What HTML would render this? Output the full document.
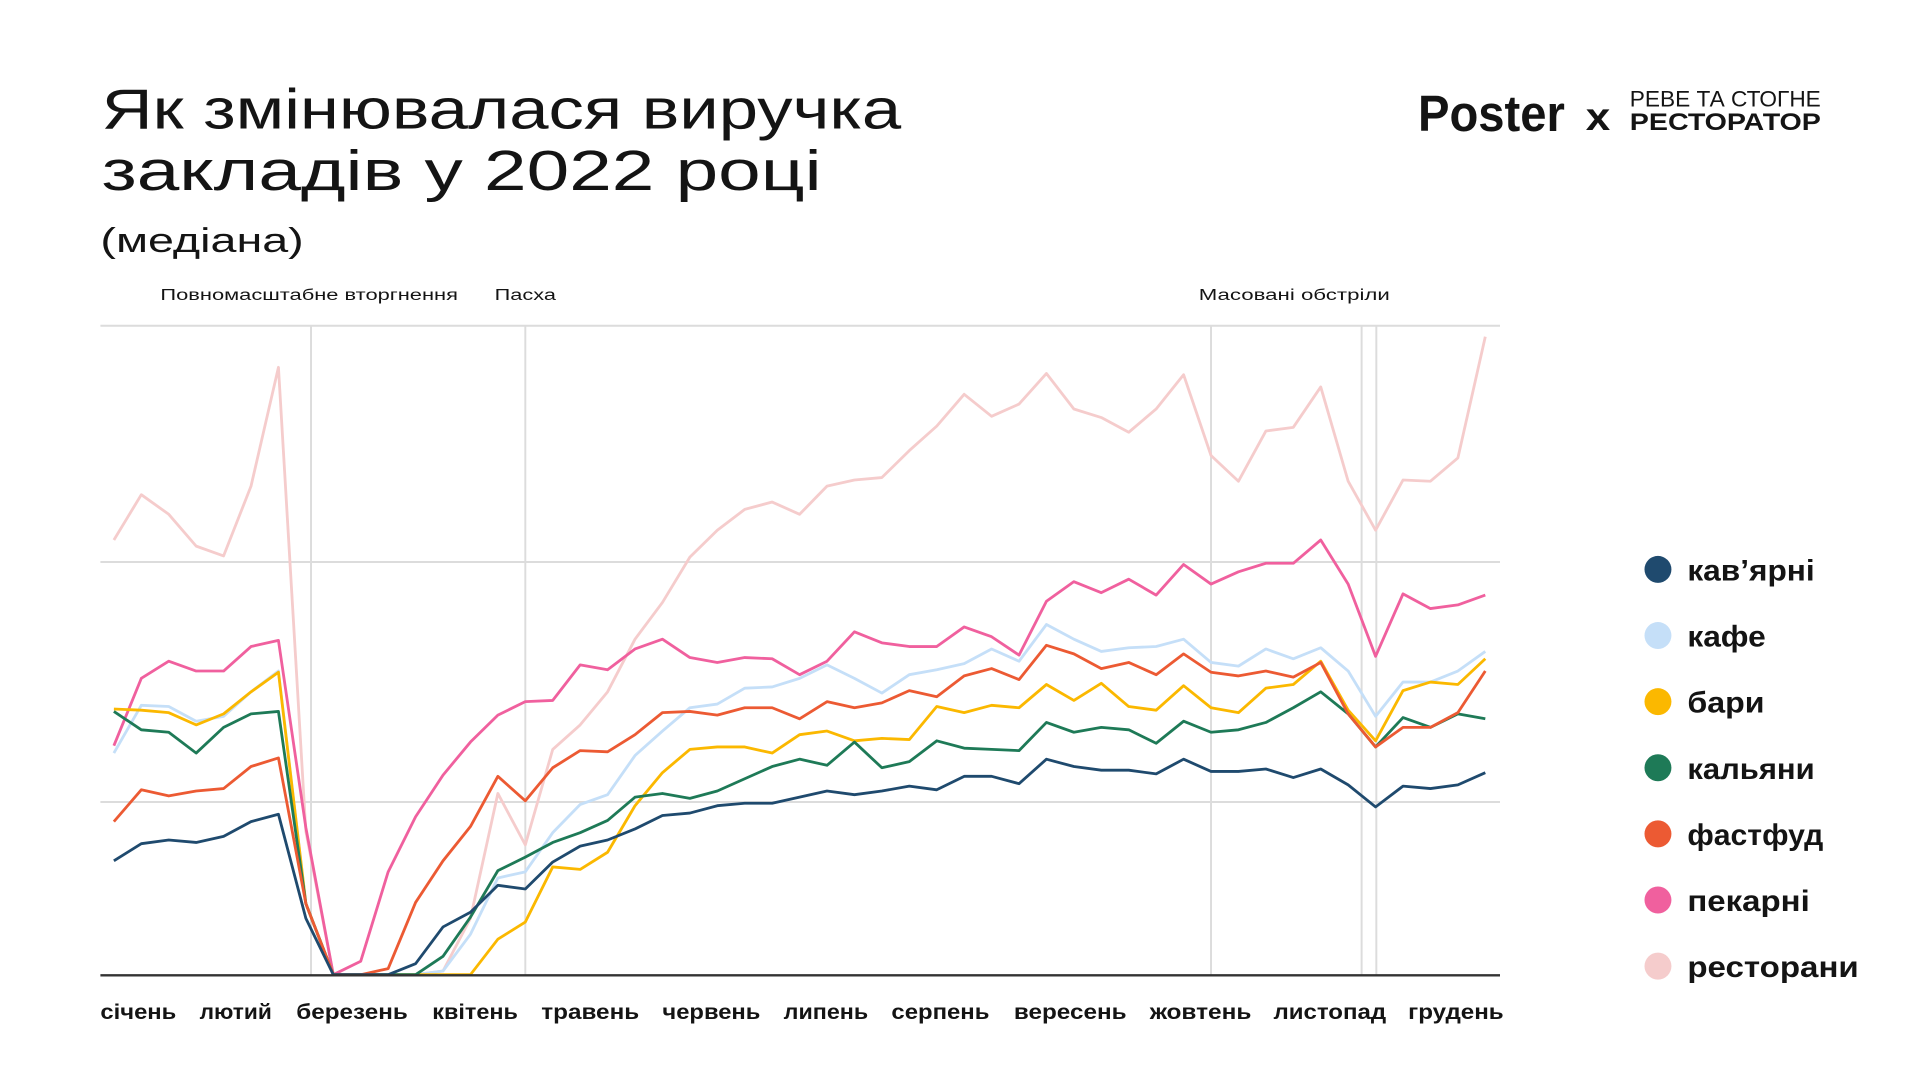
<!DOCTYPE html>
<html><head><meta charset="utf-8"><style>
html,body{margin:0;padding:0;background:#fff;}
svg{display:block;}
text{font-family:"Liberation Sans",sans-serif;fill:#141414;}
</style></head><body>
<svg width="1920" height="1080" viewBox="0 0 1568 882" xmlns="http://www.w3.org/2000/svg">
<rect width="1568" height="882" fill="#fff"/>
<text x="83" y="105" font-size="46" textLength="653" lengthAdjust="spacingAndGlyphs">Як змінювалася виручка</text>
<text x="83" y="155" font-size="46" textLength="588" lengthAdjust="spacingAndGlyphs">закладів у 2022 році</text>
<text x="82" y="206" font-size="28" textLength="166" lengthAdjust="spacingAndGlyphs">(медіана)</text>
<text x="1158" y="107" font-size="42" font-weight="bold" textLength="120" lengthAdjust="spacingAndGlyphs">Poster</text>
<text x="1295" y="106" font-size="32" font-weight="bold" textLength="20" lengthAdjust="spacingAndGlyphs">x</text>
<text x="1331" y="87" font-size="18" textLength="156" lengthAdjust="spacingAndGlyphs">РЕВЕ ТА СТОГНЕ</text>
<text x="1331" y="106" font-size="20" font-weight="bold" textLength="156" lengthAdjust="spacingAndGlyphs">РЕСТОРАТОР</text>
<g font-size="13">
<text x="131" y="245" textLength="243" lengthAdjust="spacingAndGlyphs">Повномасштабне вторгнення</text>
<text x="404" y="245" textLength="50" lengthAdjust="spacingAndGlyphs">Пасха</text>
<text x="979" y="245" textLength="156" lengthAdjust="spacingAndGlyphs">Масовані обстріли</text>
</g>
<g stroke="#dcdcdc" stroke-width="1.6">
<line x1="82" y1="266" x2="1225" y2="266"/>
<line x1="82" y1="459" x2="1225" y2="459"/>
<line x1="82" y1="655" x2="1225" y2="655"/>
<line x1="254" y1="266" x2="254" y2="796"/>
<line x1="429" y1="266" x2="429" y2="796"/>
<line x1="989" y1="266" x2="989" y2="796"/>
<line x1="1112" y1="266" x2="1112" y2="796"/>
<line x1="1124" y1="266" x2="1124" y2="796"/>
</g>
<g fill="none" stroke-width="2.3" stroke-linejoin="round">
<polyline id="r" stroke="#f5cccc" points=""/>
<polyline id="p" stroke="#f0609e" points=""/>
<polyline id="k" stroke="#c5dff8" points=""/>
<polyline id="b" stroke="#fbb800" points=""/>
<polyline id="g" stroke="#1e7a57" points=""/>
<polyline id="f" stroke="#ec5a33" points=""/>
<polyline id="n" stroke="#1f4a6e" points=""/>
</g>
<line x1="82" y1="796.5" x2="1225" y2="796.5" stroke="#333" stroke-width="2"/>
<g font-size="17" font-weight="bold">
<text x="82" y="832" textLength="62" lengthAdjust="spacingAndGlyphs">січень</text>
<text x="163" y="832" textLength="59" lengthAdjust="spacingAndGlyphs">лютий</text>
<text x="242" y="832" textLength="91" lengthAdjust="spacingAndGlyphs">березень</text>
<text x="353" y="832" textLength="70" lengthAdjust="spacingAndGlyphs">квітень</text>
<text x="442" y="832" textLength="80" lengthAdjust="spacingAndGlyphs">травень</text>
<text x="541" y="832" textLength="80" lengthAdjust="spacingAndGlyphs">червень</text>
<text x="640" y="832" textLength="69" lengthAdjust="spacingAndGlyphs">липень</text>
<text x="728" y="832" textLength="80" lengthAdjust="spacingAndGlyphs">серпень</text>
<text x="828" y="832" textLength="92" lengthAdjust="spacingAndGlyphs">вересень</text>
<text x="939" y="832" textLength="83" lengthAdjust="spacingAndGlyphs">жовтень</text>
<text x="1040" y="832" textLength="92" lengthAdjust="spacingAndGlyphs">листопад</text>
<text x="1150" y="832" textLength="78" lengthAdjust="spacingAndGlyphs">грудень</text>
</g>
<g font-size="24" font-weight="bold">
<circle cx="1354" cy="465" r="11" fill="#1f4a6e"/><text x="1378" y="474" textLength="104" lengthAdjust="spacingAndGlyphs">кав’ярні</text>
<circle cx="1354" cy="519" r="11" fill="#c5dff8"/><text x="1378" y="528" textLength="64" lengthAdjust="spacingAndGlyphs">кафе</text>
<circle cx="1354" cy="573" r="11" fill="#fbb800"/><text x="1378" y="582" textLength="63" lengthAdjust="spacingAndGlyphs">бари</text>
<circle cx="1354" cy="627" r="11" fill="#1e7a57"/><text x="1378" y="636" textLength="104" lengthAdjust="spacingAndGlyphs">кальяни</text>
<circle cx="1354" cy="681" r="11" fill="#ec5a33"/><text x="1378" y="690" textLength="111" lengthAdjust="spacingAndGlyphs">фастфуд</text>
<circle cx="1354" cy="735" r="11" fill="#f0609e"/><text x="1378" y="744" textLength="100" lengthAdjust="spacingAndGlyphs">пекарні</text>
<circle cx="1354" cy="789" r="11" fill="#f5cccc"/><text x="1378" y="798" textLength="140" lengthAdjust="spacingAndGlyphs">ресторани</text>
</g>
</svg>
<script>
var D={
r:[441,404,420,446,454,397,300,679,796,796,796,796,793,750,648,690,612,592,565,522,492,455,433,416,410,420,397,392,390,368,348,322,340,330,305,334,341,353,334,306,372,393,352,349,316,393,433,392,393,374,275],
p:[609,554,540,548,548,528,523,676,796,785,712,667,633,606,584,573,572,543,547,530,522,537,541,537,538,551,540,516,525,528,528,512,520,535,491,475,484,473,486,461,477,467,460,460,441,477,536,485,497,494,486],
k:[615,576,577,589,585,565,548,738,796,796,796,796,793,763,717,712,680,657,649,617,597,578,575,562,561,554,543,554,566,551,547,542,530,540,510,522,532,529,528,522,541,544,530,538,529,548,585,557,557,548,532],
b:[579,580,582,592,583,565,549,738,796,796,796,796,796,796,767,753,708,710,696,658,631,612,610,610,615,600,597,605,603,604,577,582,576,578,559,572,558,577,580,560,578,582,562,559,540,580,605,564,557,559,538],
g:[581,596,598,615,594,583,581,738,796,796,796,796,781,749,711,700,688,680,670,651,648,652,646,636,626,620,625,606,627,622,605,611,612,613,590,598,594,596,607,589,598,596,590,578,565,583,610,586,594,583,587],
f:[671,645,650,646,644,626,619,738,796,796,791,737,703,675,634,654,627,613,614,600,582,581,584,578,578,587,573,578,574,564,569,552,546,555,527,534,546,541,551,534,549,552,548,553,541,583,610,594,594,582,548],
n:[703,689,686,688,683,671,665,750,796,796,796,787,757,745,723,726,704,691,686,677,666,664,658,656,656,651,646,649,646,642,645,634,634,640,620,626,629,629,632,620,630,630,628,635,628,641,659,642,644,641,631]};
for(var k in D){var a=D[k],s=[];for(var i=0;i<a.length;i++)s.push((93+22.4*i).toFixed(1)+','+a[i]);document.getElementById(k).setAttribute('points',s.join(' '));}
</script>
</body></html>
